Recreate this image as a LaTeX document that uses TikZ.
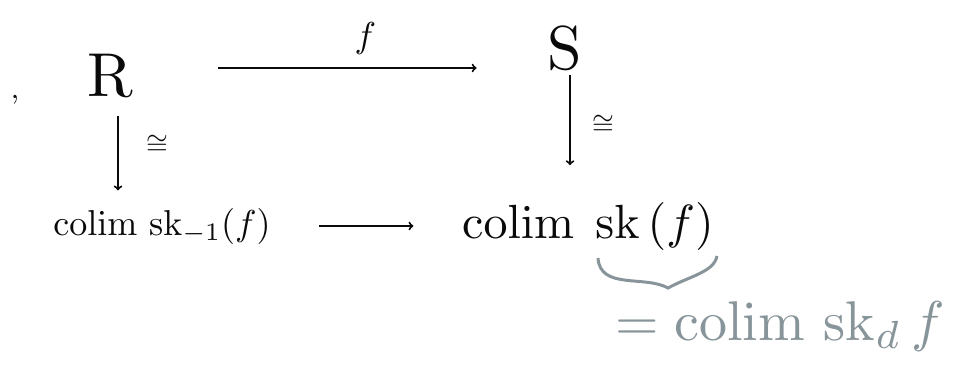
\documentclass[tikz,border=0pt]{standalone}
\usepackage{amsmath, amssymb}
\usepackage{xcolor}
\usepackage{tikz}
\definecolor{cInk}{RGB}{10,10,10}
\definecolor{cNote}{RGB}{135,148,153}

\begin{document}
\begin{tikzpicture}[x=1pt,y=-1pt,line width=2pt,cInk]
\useasboundingbox (0,0) rectangle (953,370);
\node[scale=3] (comma) at (15,100) {,};
\node[scale=6.2,inner sep=0pt] (R) at (110,76) {R};
\node[scale=6.2,inner sep=0pt] (S) at (565,48) {S};
\node[scale=3.6] (cR) at (162,226) {$\operatorname{colim}\,\mathrm{sk}_{-1}(f)$};
\node[scale=4.8] (cS) at (588,226) {$\operatorname{colim}\;\mathrm{sk}\,(f)$};
\node[scale=2.8,inner sep=0pt] (isoR) at (157,145) {$\cong$};
\node[scale=2.8,inner sep=0pt] (isoS) at (603,125) {$\cong$};
\draw[->] ([shift={(79,-8)}]R.east) -- node[pos=0.57,above=-2pt,scale=3.6]{$f$} ([shift={(-65,20)}]S.west);
\draw[->,shorten >=14pt] ([shift={(8,12)}]R.south) -- ([shift={(8,12)}]R.south |- cR.north);
\draw[->,shorten >=14pt] ([shift={(5,-2)}]S.south) -- ([shift={(5,-2)}]S.south |- cS.north);
\draw[->] ([xshift=33pt]cR.east) -- ([xshift=-28pt]cS.west);
\coordinate (bl) at (598,258); \coordinate (br) at (717,256);
\draw[cNote,line width=3pt] (bl) .. controls (600,290) and (645,275) .. (668,288) .. controls (690,276) and (714,272) .. (br);
\node[cNote,scale=5.6] (eq) at (780,326) {$=\operatorname{colim}\,\mathrm{sk}_d\,f$};
\end{tikzpicture}
\end{document}
